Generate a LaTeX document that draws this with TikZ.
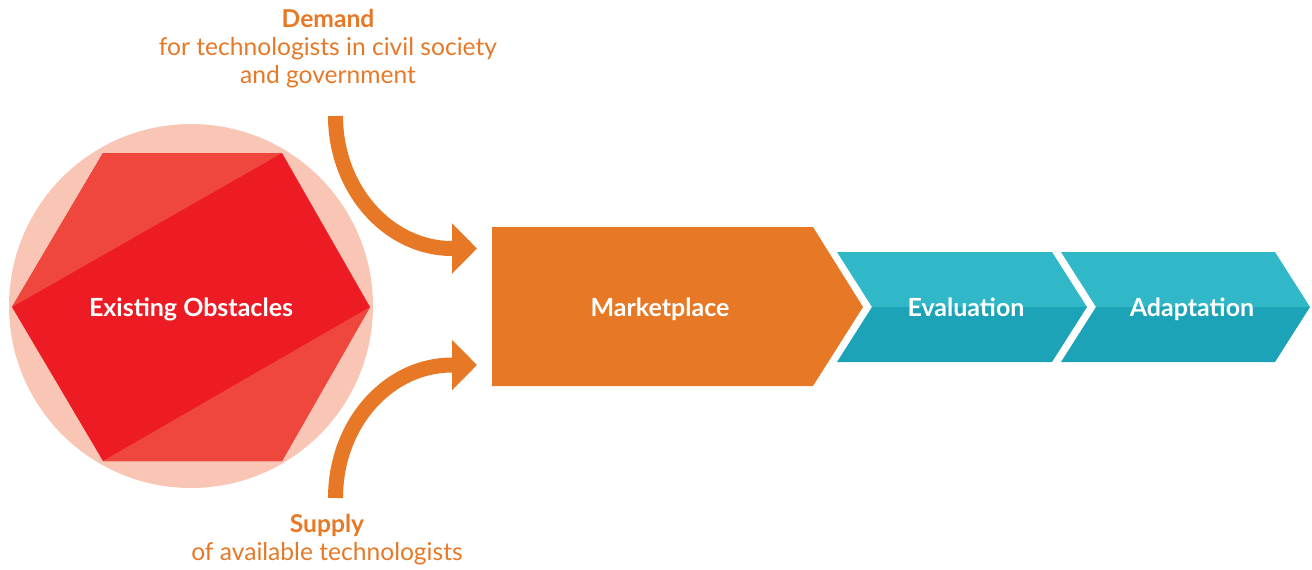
\documentclass[tikz,border=0pt]{standalone}
\usepackage{fontspec}
\setmainfont{Lato}
\usetikzlibrary{arrows.meta}
\definecolor{peach}{HTML}{F9C6B5}
\definecolor{hexred}{HTML}{ED1C24}
\definecolor{hexlight}{HTML}{EF473D}
\definecolor{orng}{HTML}{E67826}
\definecolor{tealtop}{HTML}{30B8C8}
\definecolor{tealbot}{HTML}{1DA3B8}
\begin{document}
\begin{tikzpicture}[x=0.5pt,y=-0.5pt,
  lbl/.style={text=white,anchor=base,font=\bfseries\fontsize{12.5}{14}\selectfont},
  note/.style={text=orng,align=center,font=\fontsize{12.3}{14}\selectfont},
  flow/.style={draw=orng,line width=7.5pt,-{Triangle[length=12.5pt,width=24.5pt]}}]
\useasboundingbox (0,0) rectangle (1312,569);
% circle + hexagon
\fill[peach] (191,306) circle[radius=182];
\coordinate (hL) at (12,307);
\coordinate (hTL) at (103,153);
\coordinate (hTR) at (282,153);
\coordinate (hR) at (370,307);
\coordinate (hBR) at (282,461);
\coordinate (hBL) at (103,461);
\fill[hexred] (hL)--(hTL)--(hTR)--(hR)--(hBR)--(hBL)--cycle;
\fill[hexlight] (hL)--(hTL)--(hTR)--cycle;
\fill[hexlight] (hR)--(hBR)--(hBL)--cycle;
\node[lbl] (obst) at (191,316) {Existing Obstacles};
% marketplace
\fill[orng] (492,227)--(813,227)--(863,307)--(813,386)--(492,386)--cycle;
\node[lbl] (market) at (660,316) {Marketplace};
% evaluation chevron
\fill[tealtop] (837,252)--(1052,252)--(1087,307)--(872,307)--cycle;
\fill[tealbot] (872,307)--(1087,307)--(1052,362)--(837,362)--cycle;
\node[lbl] (eval) at (966,316) {Evaluation};
% adaptation chevron
\fill[tealtop] (1061,252)--(1275,252)--(1310,307)--(1096,307)--cycle;
\fill[tealbot] (1096,307)--(1310,307)--(1275,362)--(1061,362)--cycle;
\node[lbl] (adapt) at (1192,316) {Adaptation};
% texts
\node[note] (demand) at (328,49) {\textbf{Demand}\\for technologists in civil society\\and government};
\node[note] (supply) at (327,540) {\textbf{Supply}\\of available technologists};
% arrows
\coordinate (dStart) at (335.5,116);
\coordinate (dEnd) at (477,248.5);
\coordinate (sStart) at (335.5,498);
\coordinate (sEnd) at (477,365);
\draw[flow] (dStart) .. controls (335.5,189) and (388,248.5) .. (452,248.5) -- (dEnd);
\draw[flow] (sStart) .. controls (335.5,424) and (388,365) .. (452,365) -- (sEnd);
\end{tikzpicture}
\end{document}
